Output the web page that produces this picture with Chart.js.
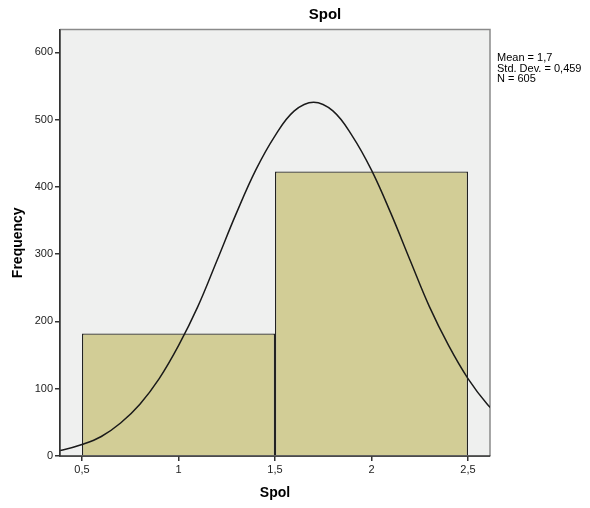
<!DOCTYPE html>
<html><head><meta charset="utf-8">
<script src="https://cdn.jsdelivr.net/npm/chart.js@4"></script>
<style>html,body{margin:0;padding:0;background:#fff}#wrap{width:590px;height:508px;position:relative}</style>
</head><body><div id="wrap"><canvas id="c" width="590" height="508"></canvas></div>
<script>
const binCenters = [1, 2];
const frequencies = [182, 423];
const xTicks = [0.5, 1, 1.5, 2, 2.5];
const yTicks = [0, 100, 200, 300, 400, 500, 600];
const curveX = [0.3, 0.4, 0.5, 0.6, 0.7, 0.8, 0.9, 1.0, 1.1, 1.2, 1.3, 1.4, 1.5, 1.6, 1.7, 1.8, 1.9, 2.0, 2.1, 2.2, 2.3, 2.4, 2.5, 2.6, 2.7];
const curveY = [5, 9, 17, 29, 49, 77, 115, 164, 222, 291, 361, 425, 476, 513, 526, 513, 476, 425, 361, 291, 222, 164, 115, 77, 49];
const titleText = "Spol";
const xTitle = "Spol";
const yTitle = "Frequency";
const statsLines = ["Mean = 1,7", "Std. Dev. = 0,459", "N = 605"];

const FONT = "'Liberation Sans', Arial, sans-serif";

const decor = {
  id: 'decor',
  beforeDatasetsDraw(chart) {
    const {ctx, chartArea: a} = chart;
    ctx.save();
    ctx.fillStyle = '#eff0ef';
    ctx.fillRect(a.left, a.top, a.right - a.left, a.bottom - a.top);
    ctx.strokeStyle = '#8a8a8a';
    ctx.lineWidth = 1.5;
    ctx.beginPath();
    ctx.moveTo(a.left, a.top); ctx.lineTo(a.right, a.top); ctx.lineTo(a.right, a.bottom);
    ctx.stroke();
    ctx.restore();
  },
  afterDraw(chart) {
    const {ctx, chartArea: a} = chart;
    ctx.save();
    ctx.fillStyle = '#000';
    ctx.textAlign = 'center';
    ctx.textBaseline = 'middle';
    ctx.font = "bold 15px " + FONT;
    ctx.fillText(titleText, 325, 15);
    ctx.font = "bold 14px " + FONT;
    ctx.fillText(xTitle, (a.left + a.right) / 2, 493);
    ctx.save();
    ctx.translate(18, (a.top + a.bottom) / 2);
    ctx.rotate(-Math.PI / 2);
    ctx.fillText(yTitle, 0, 0);
    ctx.restore();
    ctx.textAlign = 'left';
    ctx.font = "11px " + FONT;
    statsLines.forEach((s, i) => ctx.fillText(s, 497, 58 + i * 10.5));
    ctx.strokeStyle = '#333';
    ctx.lineWidth = 1.5;
    ctx.beginPath();
    ctx.moveTo(a.left, a.top); ctx.lineTo(a.left, a.bottom); ctx.lineTo(a.right, a.bottom);
    ctx.stroke();
    ctx.restore();
  }
};

new Chart(document.getElementById('c'), {
  data: {
    datasets: [
      {
        type: 'line',
        data: curveX.map((x, i) => ({x, y: curveY[i]})),
        borderColor: '#1a1a1a',
        borderWidth: 1.5,
        pointRadius: 0,
        tension: 0.4,
        order: 0
      },
      {
        type: 'bar',
        data: binCenters.map((x, i) => ({x, y: frequencies[i]})),
        backgroundColor: '#d2cd96',
        borderColor: '#222',
        borderWidth: 1.3,
        barPercentage: 2,
        categoryPercentage: 1,
        order: 1
      }
    ]
  },
  plugins: [decor],
  options: {
    responsive: false,
    animation: false,
    layout: {padding: {top: 29.5, right: 100, left: 0, bottom: 0}},
    plugins: {legend: {display: false}, tooltip: {enabled: false}},
    scales: {
      x: {
        type: 'linear',
        offset: false,
        min: 0.386, max: 2.614,
        afterBuildTicks: s => { s.ticks = xTicks.map(v => ({value: v})); },
        afterFit: s => { s.height = 52; },
        ticks: {
          callback: v => String(v).replace('.', ','),
          color: '#222', font: {family: FONT, size: 11}, padding: 2, maxRotation: 0
        },
        grid: {display: true, offset: false, drawOnChartArea: false, drawTicks: true, tickLength: 5, color: '#333', lineWidth: 1.5},
        border: {display: true, color: '#333', width: 1.5}
      },
      y: {
        type: 'linear',
        min: 0, max: 634,
        afterBuildTicks: s => { s.ticks = yTicks.map(v => ({value: v})); },
        afterFit: s => { s.width = 60; },
        ticks: {color: '#222', font: {family: FONT, size: 11}, padding: 2},
        grid: {display: true, drawOnChartArea: false, drawTicks: true, tickLength: 5, color: '#333', lineWidth: 1.5},
        border: {display: true, color: '#333', width: 1.5}
      }
    }
  }
});
</script>
</body></html>
